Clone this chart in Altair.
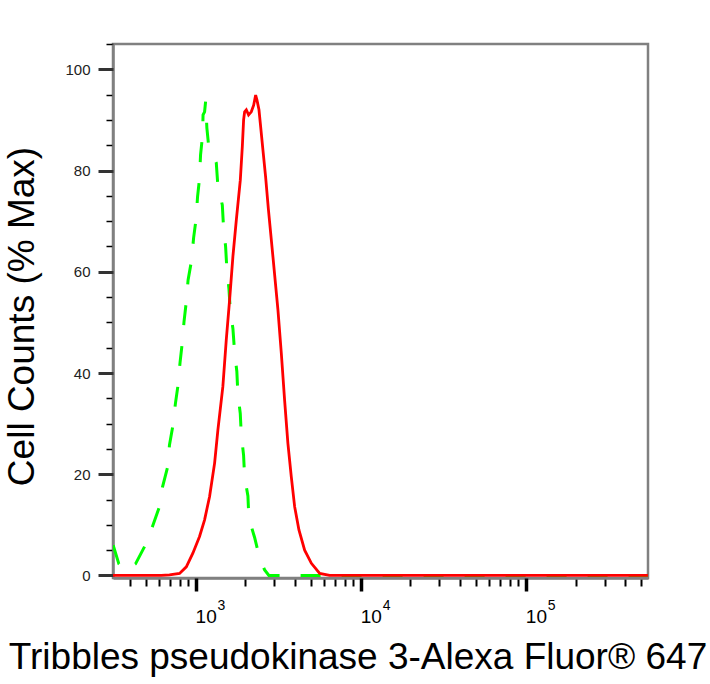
import altair as alt
import pandas as pd

# ---- data ----
red_x = [316, 620, 695, 800, 879, 963, 1057, 1134, 1216, 1304, 1365, 1463, 1534, 1607,
         1683, 1765, 1866, 1919, 1954, 1982, 2029, 2094, 2175, 2248, 2311, 2355, 2421,
         2467, 2558, 2655, 2758, 2941, 3153, 3306, 3460, 3624, 3800, 3981, 4227, 4577,
         5028, 5645, 6488, 549000]
red_y = [0, 0, 0.1, 0.4, 1.7, 4.4, 7.7, 11.0, 15.6, 22.2, 28.7, 37.3, 46.5, 54.4,
         63.0, 70.2, 78.1, 84.7, 90.0, 91.6, 92.0, 91.0, 91.6, 92.9, 94.9, 93.9, 92.0,
         89.3, 84.1, 78.8, 72.5, 63.0, 52.5, 43.9, 34.7, 26.1, 19.5, 13.6, 9.0, 5.0,
         2.4, 0.4, 0, 0]

green_x = [317, 343, 376, 433, 491, 547, 600, 631, 677, 695, 728, 756, 783, 805, 830,
           851, 878, 901, 946, 973, 1007, 1028, 1057, 1072, 1103, 1110, 1134, 1150,
           1171, 1199, 1224, 1276, 1335, 1365, 1452, 1478, 1520, 1548, 1592, 1623,
           1683, 1723, 1778, 1803, 1865, 1892, 1953, 1982, 2075, 2104, 2278, 2444,
           2620, 2780, 549000]
green_y = [6.0, 2.3, 0.9, 2.3, 5.7, 9.6, 13.3, 17.5, 21.4, 25.8, 29.5, 34.1, 37.6, 42.0,
           45.9, 50.1, 54.0, 58.4, 62.3, 66.7, 70.4, 74.8, 78.5, 83.1, 87.0, 91.0, 91.6,
           93.6, 88.4, 85.0, 84.0, 82.9, 81.5, 76.9, 73.2, 68.6, 65.0, 60.4, 56.7, 52.4,
           48.8, 44.2, 40.3, 36.0, 32.0, 27.8, 23.8, 19.5, 15.7, 11.3, 7.5, 3.4,
           1.1, 0, 0]

x_major = [1000, 10000, 100000]
x_base = ["10", "10", "10"]
x_exponents = ["3", "4", "5"]
x_minor = [400, 500, 600, 700, 800, 900,
           2000, 3000, 4000, 5000, 6000, 7000, 8000, 9000,
           20000, 30000, 40000, 50000, 60000, 70000, 80000, 90000,
           200000, 300000, 400000, 500000]
y_major = [0, 20, 40, 60, 80, 100]
y_minor = [5, 10, 15, 25, 30, 35, 45, 50, 55, 65, 70, 75, 85, 90, 95, 105]

x_title = "Tribbles pseudokinase 3-Alexa Fluor® 647"
y_title = "Cell Counts (% Max)"

W, H = 535, 534
FONT = "Liberation Sans"

xscale = alt.Scale(type="log", domain=[316.2, 549500], nice=False)
yscale = alt.Scale(domain=[-0.5, 105], nice=False, zero=False)

red_df = pd.DataFrame({"x": red_x, "y": red_y})
green_df = pd.DataFrame({"x": green_x, "y": green_y})
lab_df = pd.DataFrame({"x": x_major, "b": x_base, "e": x_exponents})

green = alt.Chart(green_df).mark_line(
    color="#00FF00", strokeWidth=3, strokeDash=[20, 21], clip=True
).encode(
    x=alt.X("x:Q", scale=xscale, axis=alt.Axis(
        orient="bottom", values=x_minor, tickSize=8, tickWidth=2, tickColor="black",
        labels=False, title=None, grid=False, domainColor="#808080", domainWidth=2.5)),
    y=alt.Y("y:Q", scale=yscale, axis=alt.Axis(
        orient="left", values=y_minor, tickSize=7, tickWidth=1.5, tickColor="black",
        labels=False, title=None, grid=False, domainColor="#808080", domainWidth=2.5)),
)

red = alt.Chart(red_df).mark_line(
    color="#FF0000", strokeWidth=2.8, clip=True
).encode(
    x=alt.X("x:Q", scale=xscale, axis=alt.Axis(
        orient="bottom", values=x_major, tickSize=13, tickWidth=3.5, tickColor="black",
        labels=False, grid=False, domain=False,
        title=x_title, titleFont=FONT, titleFontSize=37, titleFontWeight="normal",
        titleColor="black", titleX=244.5, titleY=90, titleAlign="center",
        titleBaseline="alphabetic")),
    y=alt.Y("y:Q", scale=yscale, axis=alt.Axis(
        orient="left", values=y_major, tickSize=15, tickWidth=3, tickColor="#333333",
        labelFontSize=15, labelFont=FONT, labelColor="#222222", labelPadding=8,
        grid=False, domain=False,
        title=y_title, titleFont=FONT, titleFontSize=37, titleFontWeight="normal",
        titleColor="black", titleX=-91, titleY=272, titleAlign="center",
        titleBaseline="middle", titleAngle=270)),
)

bases = alt.Chart(lab_df).mark_text(
    align="left", baseline="alphabetic", fontSize=19, dx=0, color="black", font=FONT
).encode(
    x=alt.X("x:Q", scale=xscale, axis=None),
    y=alt.value(H + 45),
    text="b:N",
)

exps = alt.Chart(lab_df).mark_text(
    align="left", baseline="alphabetic", fontSize=14, dx=22, color="black", font=FONT
).encode(
    x=alt.X("x:Q", scale=xscale, axis=None),
    y=alt.value(H + 32),
    text="e:N",
)

chart = alt.layer(green, red, bases, exps).resolve_axis(
    x="independent", y="independent"
).properties(
    width=W, height=H,
    autosize=alt.AutoSizeParams(type="none"),
    padding={"left": 113, "top": 44, "right": 62, "bottom": 106},
    background="white",
).configure(font=FONT).configure_view(stroke="#808080", strokeWidth=2.5)

chart.save("out.html", embed_options={"renderer": "svg", "actions": False})
